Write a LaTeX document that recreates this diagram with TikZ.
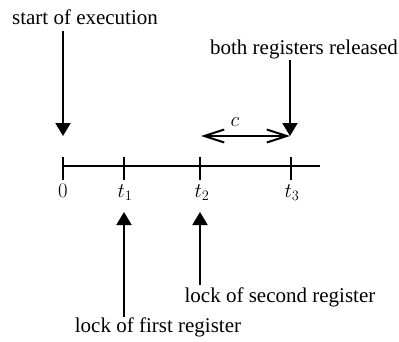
\documentclass[tikz,border=0pt]{standalone}
\usepackage{fontspec}
\setmainfont{Liberation Serif}
\newfontfamily\timesfont{Liberation Serif}
\usetikzlibrary{arrows.meta}
\begin{document}
\begin{tikzpicture}[x=1pt,y=-1pt,
  lbl/.style={font=\timesfont\fontsize{21}{25}\selectfont,anchor=base,inner sep=0pt},
  mlbl/.style={font=\fontsize{22}{26}\selectfont,anchor=base,inner sep=0pt},
  axisline/.style={line width=2pt},
  event/.style={line width=2pt,-{Triangle[width=15pt,length=13pt]}},
  span/.style={line width=2pt,{Straight Barb[width=13pt,length=20pt,line width=2pt]}-{Straight Barb[width=13pt,length=20pt,line width=2pt]}}]
\useasboundingbox (0,0) rectangle (399,341);
% time axis and ticks
\coordinate (a0) at (63,166);
\coordinate (aend) at (320,166);
\coordinate (x0) at (63,166);
\coordinate (x1) at (124,166);
\coordinate (x2) at (200,166);
\coordinate (x3) at (291,166);
\draw[axisline] (a0) -- (aend);
\foreach \k in {0,1,2,3}{
  \draw[axisline] ([yshift=-14pt]x\k) -- ([yshift=9pt]x\k);
}
% tick labels
\node[mlbl] (l0) at (63,197) {$0$};
\node[mlbl] (l1) at (125,197) {$t_1$};
\node[mlbl] (l2) at (202,197) {$t_2$};
\node[mlbl] (l3) at (292,197) {$t_3$};
% event texts
\node[lbl] (start) at (85,24) {start of execution};
\node[lbl] (both) at (304,54) {both registers released};
\node[lbl] (second) at (280,302) {lock of second register};
\node[lbl] (first) at (158,332) {lock of first register};
% arrow end points
\coordinate (s0) at (63,31);
\coordinate (e0) at (63,136);
\coordinate (s3) at (290,60);
\coordinate (e3) at (290,136);
\coordinate (s1) at (124,317);
\coordinate (e1) at (124,212);
\coordinate (s2) at (200,285);
\coordinate (e2) at (200,212);
\coordinate (c0) at (201,136);
% event arrows
\draw[event] (s0) -- (e0);
\draw[event] (s3) -- (e3);
\draw[event] (s1) -- (e1);
\draw[event] (s2) -- (e2);
% interval c
\draw[span] (c0) -- (e3);
\node[mlbl] (clbl) at (235,126) {$c$};
\end{tikzpicture}
\end{document}
